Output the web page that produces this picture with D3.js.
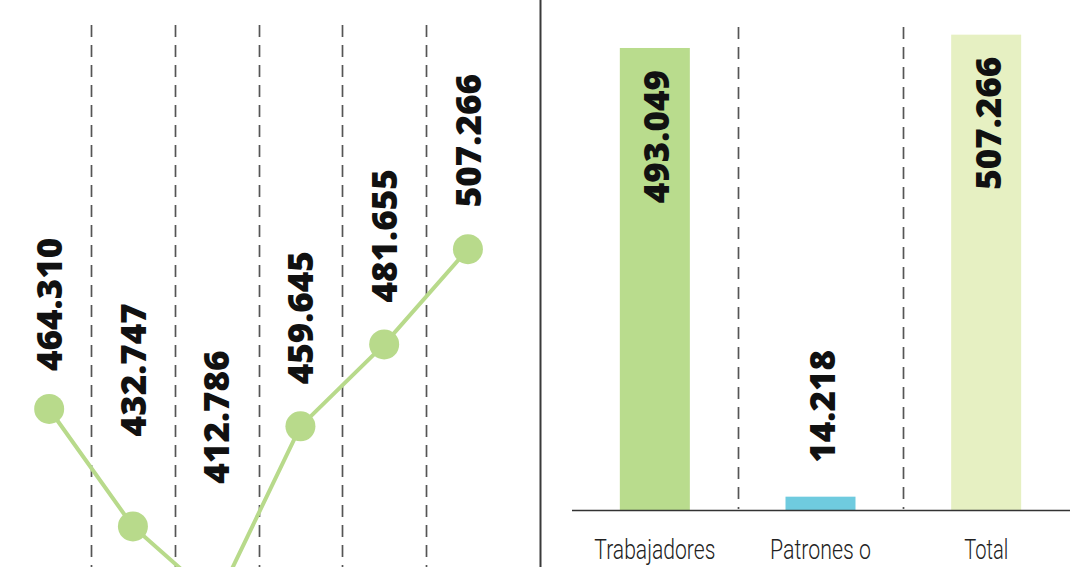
<!DOCTYPE html>
<html>
<head>
<meta charset="utf-8">
<script src="https://cdn.jsdelivr.net/npm/d3@7"></script>
<style>
  html, body { margin: 0; padding: 0; background: #fff; }
  svg { display: block; }
</style>
</head>
<body>
<svg id="chart" width="1080" height="567"></svg>
<script>
// ---------- DATA ----------
// Left panel: evolution (period labels are not visible in the cropped reference)
const periods = ["P1", "P2", "P3", "P4", "P5", "P6"];
const lineValues = [464310, 432747, 412786, 459645, 481655, 507266];

// Right panel: composition of the last period
const barCategories = ["Trabajadores", "Patrones o", "Total"];
const barValues = [493049, 14218, 507266];

// ---------- LAYOUT / STYLE (not data) ----------
const labelGap = [38, 90, 117, 42, 42, 42];
const catWidths = [121, 101, 44];
const barColors = ["#b9dc8d", "#6fcbdf", "#e6f0c2"];
const green = "#b8da8b";

const fmt = d3.formatLocale({ decimal: ",", thousands: ".", grouping: [3], currency: ["", ""] }).format(",d");

const svg = d3.select("#chart");
const W = 1080, H = 567;

// ---------- LEFT PANEL ----------
const xL = d3.scaleBand().domain(periods).range([7.3, 509.8]).padding(0);
const yL = d3.scaleLinear().domain([400000, 510000]).range([648.2, 239.0]);
const cxL = d => xL(d) + xL.bandwidth() / 2;

const left = svg.append("g");

left.selectAll("line.sep")
  .data(periods.slice(1))
  .join("line")
  .attr("class", "sep")
  .attr("x1", d => Math.round(xL(d)) + 0.5)
  .attr("x2", d => Math.round(xL(d)) + 0.5)
  .attr("y1", 25)
  .attr("y2", H + 20)
  .attr("stroke", "#555")
  .attr("stroke-width", 1.7)
  .attr("stroke-dasharray", "12 8");

const pts = periods.map((p, i) => ({ p, v: lineValues[i], gap: labelGap[i] }));

left.append("path")
  .datum(pts)
  .attr("fill", "none")
  .attr("stroke", green)
  .attr("stroke-width", 4)
  .attr("d", d3.line().x(d => cxL(d.p)).y(d => yL(d.v)));

left.selectAll("circle")
  .data(pts)
  .join("circle")
  .attr("cx", d => cxL(d.p))
  .attr("cy", d => yL(d.v))
  .attr("r", 15)
  .attr("fill", green);

left.selectAll("text.val")
  .data(pts)
  .join("text")
  .attr("class", "val")
  .attr("transform", d => `translate(${cxL(d.p)},${yL(d.v) - d.gap}) rotate(-90)`)
  .attr("text-anchor", "start")
  .attr("dy", "0.36em")
  .attr("font-family", "'Open Sans', sans-serif")
  .attr("font-weight", 800)
  .attr("font-size", 35)
  .attr("fill", "#111")
  .text(d => fmt(d.v));

// vertical panel divider
svg.append("line")
  .attr("x1", 540.5).attr("x2", 540.5)
  .attr("y1", 0).attr("y2", H)
  .attr("stroke", "#3a3a3a")
  .attr("stroke-width", 2);

// ---------- RIGHT PANEL ----------
const xR = d3.scaleBand().domain(barCategories).range([572, 1069]).padding(0);
const yR = d3.scaleLinear().domain([0, 510000]).range([510, 32.1]);
const barW = xR.bandwidth() * 0.4225;
const cxR = d => xR(d) + xR.bandwidth() / 2;

const right = svg.append("g");

right.selectAll("line.sep")
  .data(barCategories.slice(1))
  .join("line")
  .attr("class", "sep")
  .attr("x1", d => Math.round(xR(d)) + 0.5)
  .attr("x2", d => Math.round(xR(d)) + 0.5)
  .attr("y1", 27)
  .attr("y2", 509)
  .attr("stroke", "#555")
  .attr("stroke-width", 1.7)
  .attr("stroke-dasharray", "12 8");

const bars = barCategories.map((c, i) => ({ c, v: barValues[i], color: barColors[i], w: catWidths[i] }));

right.selectAll("rect")
  .data(bars)
  .join("rect")
  .attr("x", d => cxR(d.c) - barW / 2)
  .attr("width", barW)
  .attr("y", d => yR(d.v))
  .attr("height", d => yR(0) - yR(d.v))
  .attr("fill", d => d.color);

right.append("line")
  .attr("x1", 572).attr("x2", 1070)
  .attr("y1", 510.5).attr("y2", 510.5)
  .attr("stroke", "#333")
  .attr("stroke-width", 1.5);

right.selectAll("text.val")
  .data(bars)
  .join("text")
  .attr("class", "val")
  .attr("transform", d => {
    const top = yR(d.v);
    const inside = (yR(0) - top) > 150;
    return `translate(${cxR(d.c) + 2},${inside ? top + 22 : top - 34}) rotate(-90)`;
  })
  .attr("text-anchor", d => (yR(0) - yR(d.v)) > 150 ? "end" : "start")
  .attr("dy", "0.36em")
  .attr("font-family", "'Open Sans', sans-serif")
  .attr("font-weight", 800)
  .attr("font-size", 35)
  .attr("fill", "#111")
  .text(d => fmt(d.v));

// category labels (condensed, light)
right.selectAll("text.cat")
  .data(bars)
  .join("text")
  .attr("class", "cat")
  .attr("x", d => cxR(d.c) - d.w / 2)
  .attr("y", 559)
  .attr("textLength", d => d.w)
  .attr("lengthAdjust", "spacingAndGlyphs")
  .attr("font-family", "'Liberation Sans Narrow', 'Roboto', sans-serif")
  .attr("font-weight", 300)
  .attr("font-size", 28)
  .attr("fill", "#222")
  .text(d => d.c);
</script>
</body>
</html>
